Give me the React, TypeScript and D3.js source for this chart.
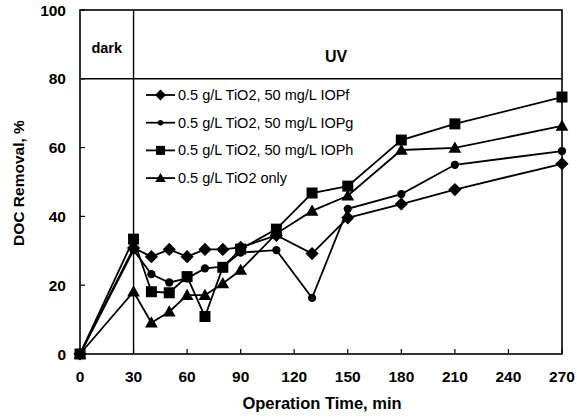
import React from "react";
import * as d3 from "d3";

const times = [0, 30, 40, 50, 60, 70, 80, 90, 110, 130, 150, 180, 210, 270];
const iopf = [0, 30.8, 28.3, 30.4, 28.3, 30.4, 30.4, 31, 34.5, 29.2, 39.6, 43.6, 47.8, 55.3];
const iopg = [0, 30.2, 23.2, 20.8, 22, 24.9, 25.4, 29.5, 30.2, 16.3, 42.2, 46.5, 55, 59];
const ioph = [0, 33.4, 18.1, 17.8, 22.5, 10.9, 25.2, 30.5, 36.3, 46.8, 48.8, 62.2, 66.9, 74.7];
const tio2Only = [0, 18.1, 9.1, 12.3, 17.1, 17.1, 20.5, 24.4, 35, 41.6, 46, 59.3, 59.9, 66.3];

const seriesNames = [
  "0.5 g/L TiO2, 50 mg/L IOPf",
  "0.5 g/L TiO2, 50 mg/L IOPg",
  "0.5 g/L TiO2, 50 mg/L IOPh",
  "0.5 g/L TiO2 only",
];
const seriesShapes = ["diamond", "circle", "square", "triangle"];
const seriesValues = [iopf, iopg, ioph, tio2Only];

const xTicks = [0, 30, 60, 90, 120, 150, 180, 210, 240, 270];
const yTicks = [0, 20, 40, 60, 80, 100];

const W = 577;
const H = 418;
const left = 80;
const right = 562;
const top = 10;
const bottom = 354;

function Marker({ shape, x, y, s }: { shape: string; x: number; y: number; s: number }) {
  if (shape === "diamond") {
    const r = s * 0.6;
    return <path d={`M${x},${y - r}L${x + r},${y}L${x},${y + r}L${x - r},${y}Z`} fill="#000" />;
  }
  if (shape === "circle") {
    return <circle cx={x} cy={y} r={s * 0.36} fill="#000" />;
  }
  if (shape === "square") {
    const h = s * 0.5;
    return <rect x={x - h} y={y - h} width={2 * h} height={2 * h} fill="#000" />;
  }
  const h = s * 0.58;
  return <path d={`M${x},${y - h}L${x + h},${y + h * 0.75}L${x - h},${y + h * 0.75}Z`} fill="#000" />;
}

export default function App() {
  const x = d3.scaleLinear().domain([0, 270]).range([left, right]);
  const y = d3.scaleLinear().domain([0, 100]).range([bottom, top]);
  const line = d3
    .line<number>()
    .x((_, i) => x(times[i]))
    .y((d) => y(d));

  const drawOrder = [3, 0, 1, 2];
  const font = "'Liberation Sans', Arial, sans-serif";

  return (
    <svg
      width={W}
      height={H}
      style={{ position: "absolute", left: 0, top: 0, background: "#fff" }}
      fontFamily={font}
    >
      <rect x={0} y={0} width={W} height={H} fill="#fff" />
      {/* frame */}
      <rect x={left} y={top} width={right - left} height={bottom - top} fill="none" stroke="#000" strokeWidth={1.6} />
      <line x1={x(30)} x2={x(30)} y1={top} y2={bottom} stroke="#000" strokeWidth={1.4} />
      <line x1={left} x2={right} y1={y(80)} y2={y(80)} stroke="#000" strokeWidth={1.6} />

      {/* ticks */}
      {xTicks.map((t) => (
        <g key={"xt" + t}>
          <line x1={x(t)} x2={x(t)} y1={bottom} y2={bottom - 5} stroke="#000" strokeWidth={1.2} />
          <text x={x(t)} y={382} textAnchor="middle" fontSize={15.5} fontWeight="bold">
            {t}
          </text>
        </g>
      ))}
      {yTicks.map((t) => (
        <g key={"yt" + t}>
          <line x1={left} x2={left + 5} y1={y(t)} y2={y(t)} stroke="#000" strokeWidth={1.2} />
          <text x={66} y={y(t) + 5.5} textAnchor="end" fontSize={15.5} fontWeight="bold">
            {t}
          </text>
        </g>
      ))}

      {/* axis titles */}
      <text x={322} y={409} textAnchor="middle" fontSize={16.5} fontWeight="bold">
        Operation Time, min
      </text>
      <text
        transform={`translate(24,${183}) rotate(-90)`}
        textAnchor="middle"
        fontSize={15.5}
        fontWeight="bold"
      >
        DOC Removal, %
      </text>

      {/* region labels */}
      <text x={(x(0) + x(30)) / 2} y={53} textAnchor="middle" fontSize={14.5} fontWeight="bold">
        dark
      </text>
      <text x={336} y={62} textAnchor="middle" fontSize={16} fontWeight="bold">
        UV
      </text>

      {/* series */}
      {drawOrder.map((si) => (
        <g key={"s" + si}>
          <path d={line(seriesValues[si]) || ""} fill="none" stroke="#000" strokeWidth={1.8} />
          {seriesValues[si].map((v, i) => (
            <Marker key={i} shape={seriesShapes[si]} x={x(times[i])} y={y(v)} s={si === 1 ? 11.5 : 11} />
          ))}
        </g>
      ))}

      {/* legend */}
      {seriesNames.map((n, i) => {
        const ly = 95 + i * 27.7;
        return (
          <g key={"lg" + i}>
            <line x1={146} x2={175} y1={ly} y2={ly} stroke="#000" strokeWidth={1.8} />
            <Marker shape={seriesShapes[i]} x={160.5} y={ly} s={i === 1 ? 7.5 : 9} />
            <text x={178} y={ly + 5} fontSize={14.5}>
              {n}
            </text>
          </g>
        );
      })}
    </svg>
  );
}
